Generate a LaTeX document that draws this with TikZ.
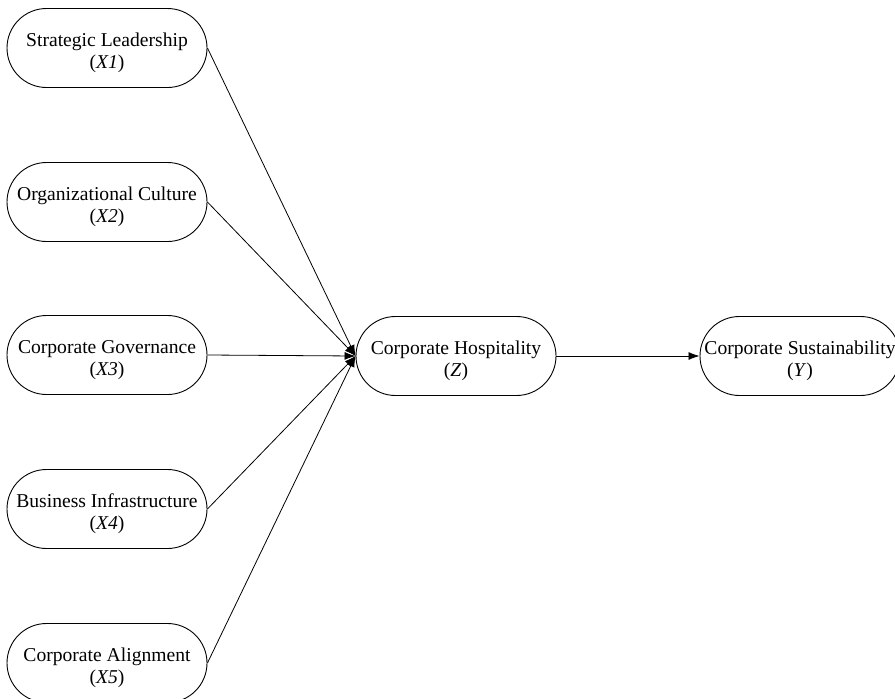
\documentclass[tikz,border=0pt]{standalone}
\usepackage{fontspec}
\setmainfont{Liberation Serif}
\usetikzlibrary{arrows.meta}

\tikzset{
	construct/.style={draw, line width=0.9pt, rectangle, rounded corners=39.5pt, minimum width=200pt, minimum height=79pt,
		align=center, inner sep=0pt, font=\fontsize{19.6}{22}\selectfont,
		text height=44pt, text depth=4pt},
	path/.style={line width=0.8pt, -{Latex[length=11pt,width=8pt]}}
}

\begin{document}
\begin{tikzpicture}[x=1pt,y=-1pt]
			\useasboundingbox (0,0) rectangle (895,699);
			
			\node[construct] (x1) at (107,48) {Strategic Leadership\\(\textit{X1})};
			\node[construct] (x2) at (107,202) {Organizational Culture\\(\textit{X2})};
			\node[construct] (x3) at (107,355) {Corporate Governance\\(\textit{X3})};
			\node[construct] (x4) at (107,509) {Business Infrastructure\\(\textit{X4})};
			\node[construct] (x5) at (107,663) {Corporate Alignment\\(\textit{X5})};
			
			\node[construct] (z) at (456,356) {Corporate Hospitality\\(\textit{Z})};
			\node[construct] (y) at (800,356) {Corporate Sustainability\\(\textit{Y})};
			
			\draw[path] (x1.east) -- (z.west);
			\draw[path] (x2.east) -- (z.west);
			\draw[path] (x3.east) -- (z.west);
			\draw[path] (x4.east) -- (z.west);
			\draw[path] (x5.east) -- (z.west);
			
			\draw[path] (z.east) -- (y.west);
			
		\end{tikzpicture}
\end{document}
